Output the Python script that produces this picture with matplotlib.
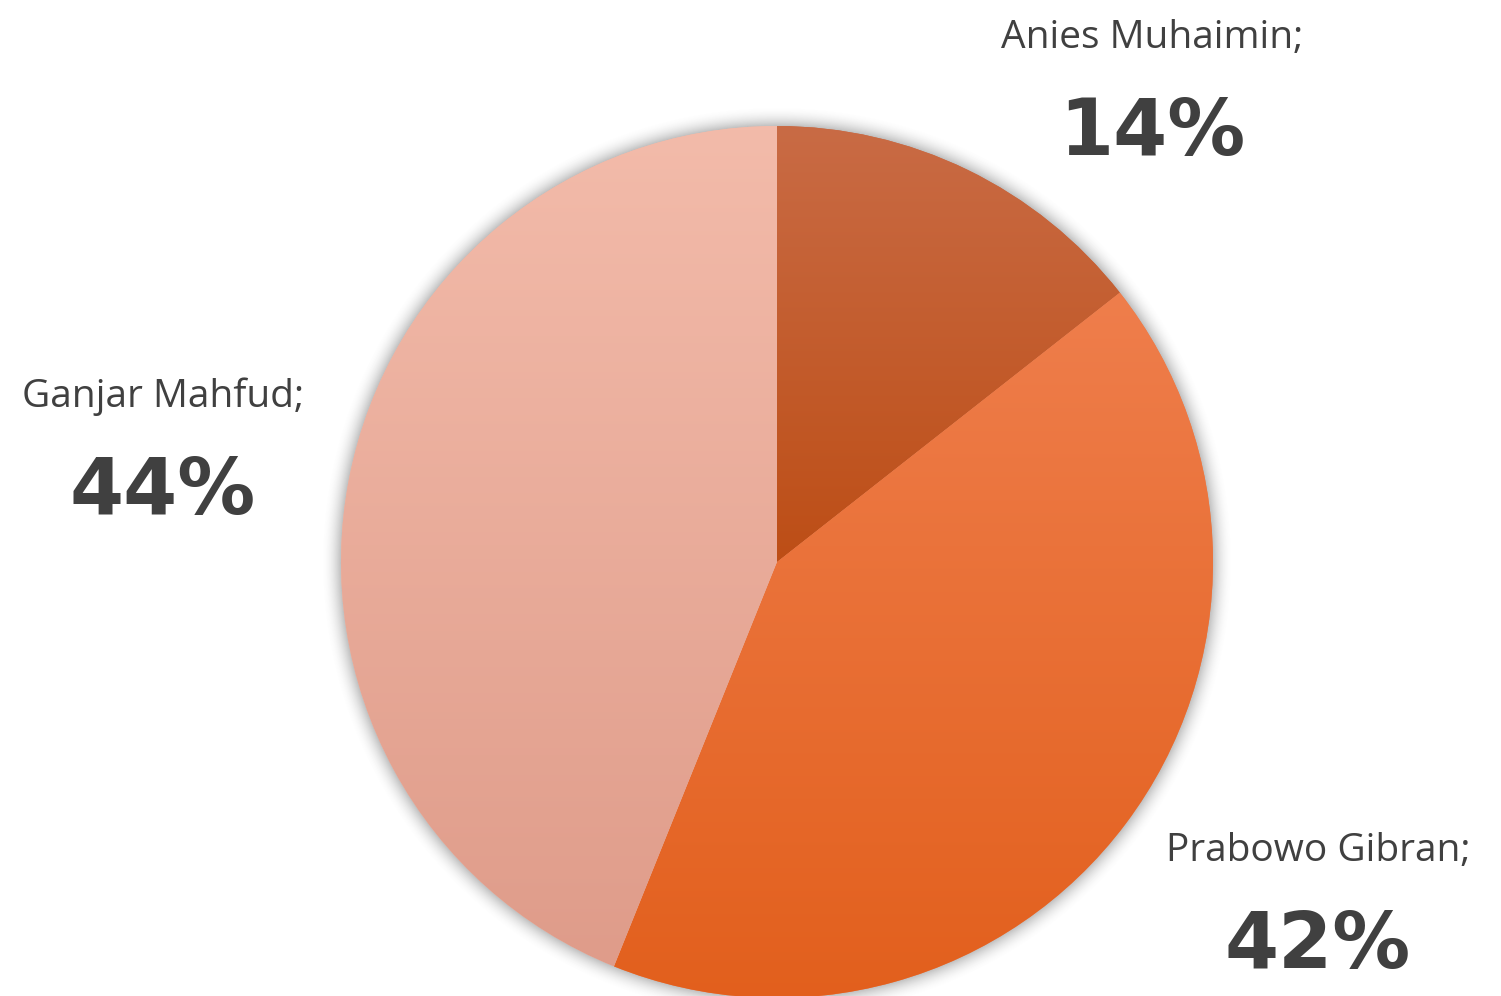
import numpy as np
import matplotlib
matplotlib.use("Agg")
import matplotlib.pyplot as plt
from matplotlib.colors import LinearSegmentedColormap

# ---- data ----
labels = ["Anies Muhaimin", "Prabowo Gibran", "Ganjar Mahfud"]
shares = [14.4, 41.7, 43.9]
top_colors = ["#C96B45", "#EF7E4C", "#F3BBAA"]
bottom_colors = ["#BD4E16", "#E25F1C", "#DF9C8A"]

# ---- layout (pixel space, y measured upward) ----
W, H = 1501, 996
cx, cy, R = 777, H - 562, 436
label_pos = {
    "Anies Muhaimin": (1152, H - 38, H - 133),
    "Prabowo Gibran": (1318, H - 851, H - 946),
    "Ganjar Mahfud": (163, H - 397, H - 492),
}
text_color = "#404040"

fig = plt.figure(figsize=(W / 100, H / 100), dpi=100)
ax = fig.add_axes([0, 0, 1, 1])
ax.set_xlim(0, W)
ax.set_ylim(0, H)
ax.set_aspect("equal")
ax.axis("off")

# soft shadow around the pie
yy, xx = np.mgrid[0:H, 0:W]
d = np.hypot(xx + 0.5 - cx, (H - yy - 0.5) - cy)
a = np.clip(1 - (d - R) / 20.0, 0, 1) ** 2 * 0.45
shadow = np.zeros((H, W, 4))
shadow[..., :3] = 0.45
shadow[..., 3] = a
ax.imshow(shadow, extent=(0, W, 0, H), origin="upper", zorder=0, interpolation="bilinear")

wedges, _ = ax.pie(shares, startangle=90, counterclock=False, center=(cx, cy),
                   radius=R, colors=top_colors, frame=True,
                   wedgeprops=dict(linewidth=0))
ax.set_xlim(0, W)
ax.set_ylim(0, H)
ax.axis("off")

for w, ct, cb in zip(wedges, top_colors, bottom_colors):
    verts = w.get_path().vertices
    tr = w.get_patch_transform()
    v = tr.transform(verts) if tr is not None else verts
    ymin, ymax = v[:, 1].min(), v[:, 1].max()
    xmin, xmax = v[:, 0].min(), v[:, 0].max()
    cmap = LinearSegmentedColormap.from_list("g", [cb, ct])
    grad = np.linspace(1, 0, 256).reshape(-1, 1)
    im = ax.imshow(grad, cmap=cmap, extent=(xmin, xmax, ymin, ymax), origin="upper",
                   aspect="auto", zorder=2, interpolation="bilinear")
    im.set_clip_path(w)
    w.set_zorder(1)

ax.set_xlim(0, W)
ax.set_ylim(0, H)

for lab, s in zip(labels, shares):
    x, y1, y2 = label_pos[lab]
    ax.text(x, y1, lab + ";", ha="center", va="center", fontsize=28,
            family="Open Sans", color=text_color, zorder=5)
    ax.text(x, y2, f"{s:.0f}%", ha="center", va="center", fontsize=56,
            family="DejaVu Sans", fontweight="bold", color=text_color, zorder=5)

fig.savefig("out.png", dpi=100, facecolor="white")
